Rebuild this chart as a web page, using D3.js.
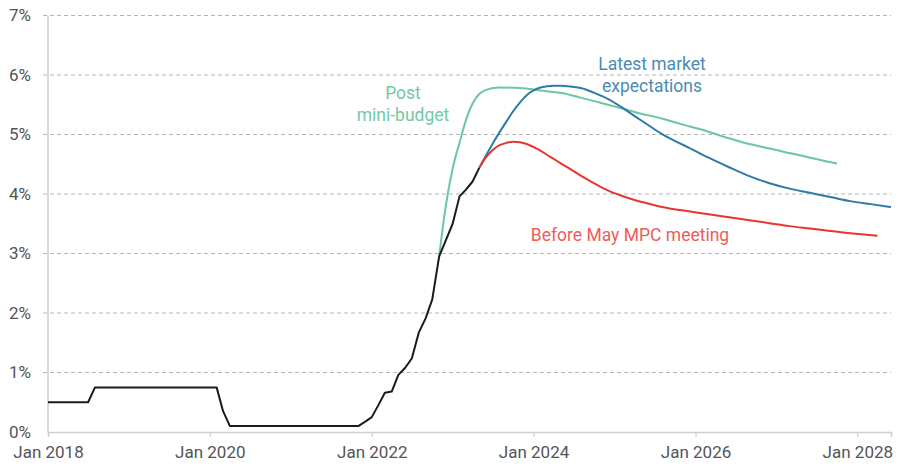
<!DOCTYPE html>
<html>
<head>
<meta charset="utf-8">
<script src="https://cdn.jsdelivr.net/npm/d3@7"></script>
<style>
  html, body { margin: 0; padding: 0; background: #fff; }
  svg { display: block; font-family: "Roboto", "Liberation Sans", sans-serif; }
</style>
</head>
<body>
<svg id="chart" width="910" height="470"></svg>
<script>
// ---------------- DATA ----------------
const yTicks = [0, 1, 2, 3, 4, 5, 6, 7];
const xTickYears = ["2018", "2020", "2022", "2024", "2026", "2028"];

// Bank Rate history (monthly)
const bankRateMonths = ["2018-01","2018-07","2018-08","2020-02","2020-03","2020-04","2021-11","2021-12",
  "2022-01","2022-02","2022-03","2022-04","2022-05","2022-06","2022-07","2022-08","2022-09","2022-10",
  "2022-11","2022-12","2023-01","2023-02","2023-03","2023-04","2023-05"];
const bankRateValues = [0.5,0.5,0.75,0.75,0.35,0.1,0.1,0.17,
  0.25,0.46,0.66,0.68,0.96,1.08,1.24,1.67,1.91,2.23,
  2.95,3.22,3.5,3.96,4.07,4.21,4.44];

// Post mini-budget
const postMiniMonths = ["2022-11","2022-12","2023-01","2023-02","2023-03","2023-04","2023-05","2023-06","2023-08",
  "2023-11","2024-02","2024-05","2024-08","2024-11","2025-02","2025-05","2025-08","2025-11","2026-02","2026-05",
  "2026-08","2026-11","2027-02","2027-05","2027-08","2027-10"];
const postMiniValues = [2.95,3.8,4.43,4.86,5.23,5.52,5.68,5.75,5.79,
  5.78,5.74,5.70,5.62,5.53,5.44,5.35,5.27,5.17,5.08,4.97,
  4.87,4.79,4.71,4.64,4.56,4.51];

// Latest market expectations
const latestMonths = ["2023-05","2023-06","2023-07","2023-08","2023-09","2023-10","2023-11","2023-12","2024-01",
  "2024-02","2024-03","2024-04","2024-05","2024-06","2024-08","2024-10","2024-12","2025-02","2025-04","2025-06",
  "2025-08","2025-10","2025-12","2026-03","2026-06","2026-09","2026-12","2027-03","2027-06","2027-09","2027-12",
  "2028-03","2028-06"];
const latestValues = [4.44,4.65,4.85,5.04,5.22,5.39,5.54,5.66,5.74,
  5.79,5.81,5.82,5.82,5.81,5.78,5.70,5.60,5.46,5.31,5.16,
  5.01,4.89,4.78,4.61,4.45,4.30,4.18,4.09,4.02,3.95,3.88,
  3.83,3.78];

// Before May MPC meeting
const beforeMayMonths = ["2023-05","2023-06","2023-07","2023-08","2023-09","2023-10","2023-11","2023-12","2024-01",
  "2024-02","2024-03","2024-04","2024-05","2024-06","2024-08","2024-10","2024-12","2025-02","2025-04","2025-06",
  "2025-09","2025-12","2026-03","2026-06","2026-09","2026-12","2027-03","2027-06","2027-09","2027-12","2028-04"];
const beforeMayValues = [4.44,4.62,4.74,4.82,4.86,4.88,4.87,4.84,4.79,
  4.73,4.66,4.59,4.52,4.45,4.31,4.18,4.06,3.97,3.90,3.84,
  3.76,3.71,3.66,3.61,3.56,3.51,3.46,3.42,3.38,3.34,3.30];

// ---------------- CHART ----------------
const parse = d3.timeParse("%Y-%m");
const zip = (ms, vs) => ms.map((m, i) => ({ date: parse(m), value: vs[i] }));

const svg = d3.select("#chart");
const x = d3.scaleTime()
  .domain([new Date(2018, 0, 1), new Date(2028, 5, 1)])
  .range([48, 891]);
const y = d3.scaleLinear().domain([0, 7]).range([432, 15.5]);

// grid lines
svg.append("g")
  .selectAll("line")
  .data(yTicks.filter(d => d > 0))
  .join("line")
  .attr("x1", 43).attr("x2", 891)
  .attr("y1", d => y(d)).attr("y2", d => y(d))
  .attr("stroke", "#b5b5b5")
  .attr("stroke-width", 1)
  .attr("stroke-dasharray", "4,3");

// y axis labels
const yAxis = d3.axisLeft(y).tickValues(yTicks).tickFormat(d => d + "%").tickSize(0).tickPadding(0);
const gy = svg.append("g").attr("transform", "translate(31,0)").call(yAxis);
gy.select(".domain").remove();
gy.selectAll("text").attr("fill", "#555").style("font-size", "17px").style("font-family", "Roboto");

// y axis line
svg.append("line")
  .attr("x1", 48).attr("x2", 48)
  .attr("y1", y(7)).attr("y2", y(0))
  .attr("stroke", "#cfcfcf").attr("stroke-width", 1.5);

// x axis
const xAxis = d3.axisBottom(x)
  .tickValues(xTickYears.map(yr => new Date(+yr, 0, 1)))
  .tickFormat(d3.timeFormat("Jan %Y"))
  .tickSize(5).tickPadding(9);
const gx = svg.append("g").attr("transform", `translate(0,${y(0)})`).call(xAxis);
gx.select(".domain").attr("stroke", "#cfcfcf").attr("stroke-width", 1.5);
gx.selectAll(".tick line").attr("stroke", "#cfcfcf").attr("stroke-width", 1.2);
gx.selectAll("text").attr("fill", "#555").style("font-size", "17px").style("font-family", "Roboto");

// lines
const lineLinear = d3.line().x(d => x(d.date)).y(d => y(d.value));
const lineSmooth = d3.line().x(d => x(d.date)).y(d => y(d.value)).curve(d3.curveMonotoneX);

const series = [
  { data: zip(postMiniMonths, postMiniValues), color: "#6cc6a2", gen: lineSmooth },
  { data: zip(latestMonths, latestValues), color: "#2f7aa6", gen: lineSmooth },
  { data: zip(beforeMayMonths, beforeMayValues), color: "#e8352f", gen: lineSmooth },
  { data: zip(bankRateMonths, bankRateValues), color: "#1b1b1b", gen: lineLinear }
];
svg.append("g")
  .selectAll("path")
  .data(series)
  .join("path")
  .attr("d", s => s.gen(s.data))
  .attr("fill", "none")
  .attr("stroke", s => s.color)
  .attr("stroke-width", 2)
  .attr("stroke-linejoin", "round");

// labels
const labels = [
  { lines: ["Post", "mini-budget"], x: 403, y: 99, color: "#74c8a6" },
  { lines: ["Latest market", "expectations"], x: 652, y: 70, color: "#4a8bb3" },
  { lines: ["Before May MPC meeting"], x: 630, y: 241, color: "#ec5d58" }
];
labels.forEach(l => {
  const t = svg.append("text")
    .attr("x", l.x).attr("y", l.y)
    .attr("text-anchor", "middle")
    .attr("fill", l.color)
    .style("font-size", "17.5px")
    .style("font-family", "Roboto");
  l.lines.forEach((s, i) => {
    t.append("tspan").attr("x", l.x).attr("dy", i === 0 ? 0 : 22).text(s);
  });
});
</script>
</body>
</html>
